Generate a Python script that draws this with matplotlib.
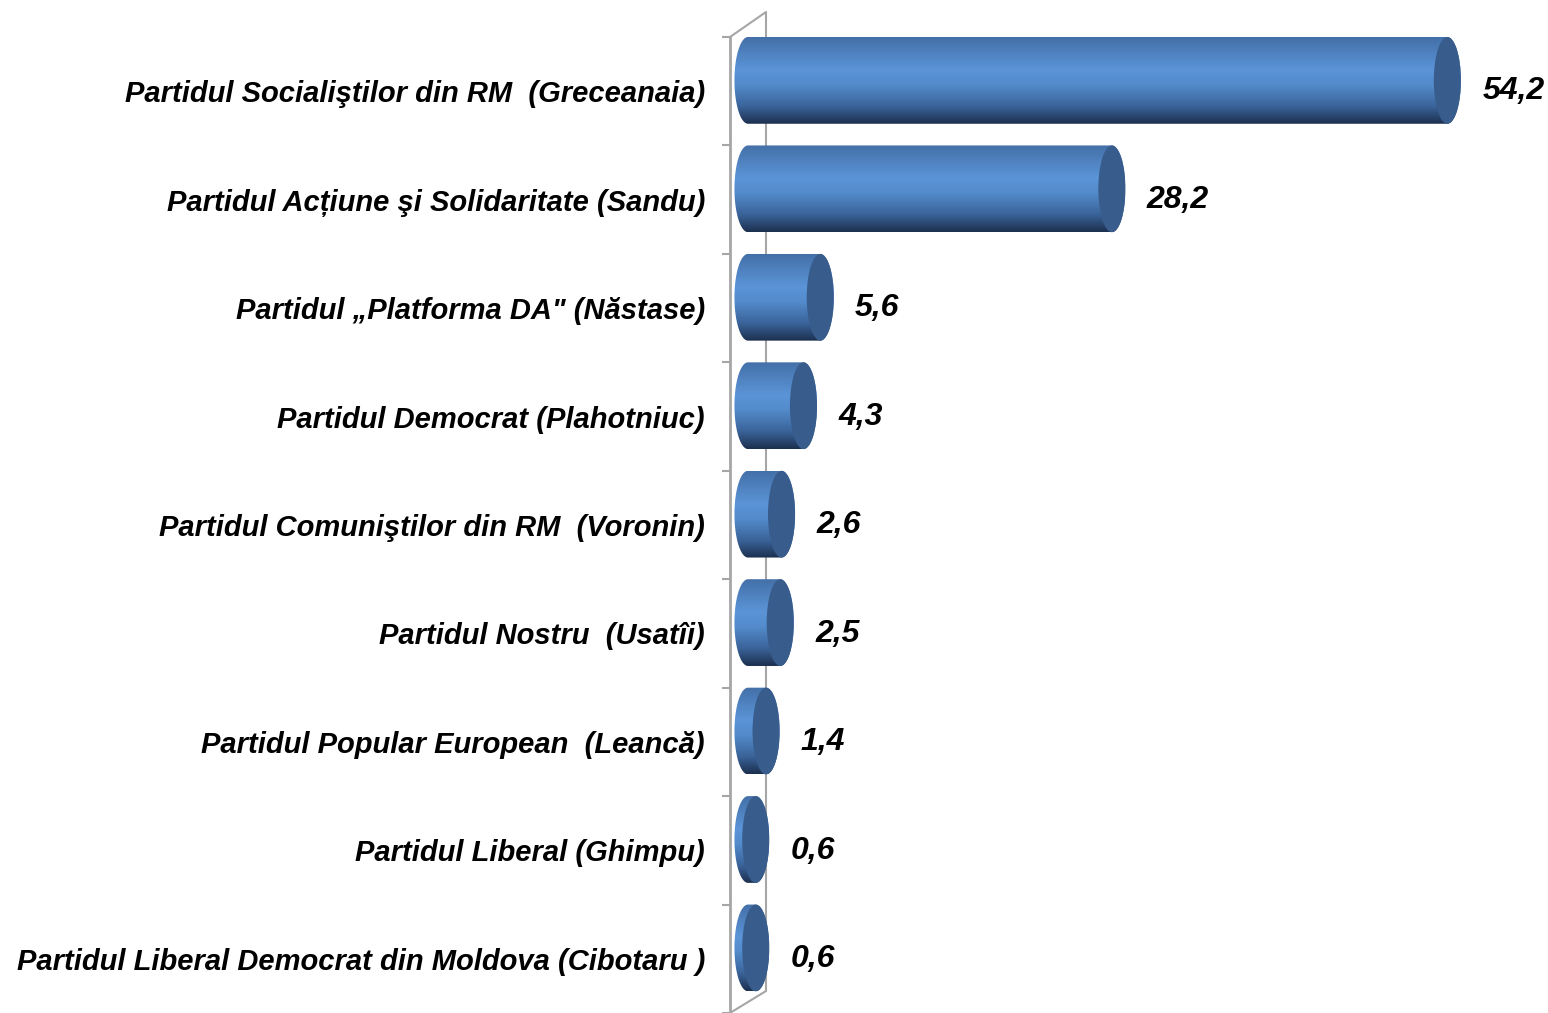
import numpy as np
import matplotlib
matplotlib.use("Agg")
import matplotlib.pyplot as plt
from matplotlib.path import Path
from matplotlib.patches import PathPatch, Ellipse
from matplotlib.colors import LinearSegmentedColormap

parties = [
    "Partidul Socialiştilor din RM  (Greceanaia)",
    "Partidul Acțiune şi Solidaritate (Sandu)",
    "Partidul „Platforma DA\" (Năstase)",
    "Partidul Democrat (Plahotniuc)",
    "Partidul Comuniştilor din RM  (Voronin)",
    "Partidul Nostru  (Usatîi)",
    "Partidul Popular European  (Leancă)",
    "Partidul Liberal (Ghimpu)",
    "Partidul Liberal Democrat din Moldova (Cibotaru )",
]
values = [54.2, 28.2, 5.6, 4.3, 2.6, 2.5, 1.4, 0.6, 0.6]
value_labels = ["54,2", "28,2", "5,6", "4,3", "2,6", "2,5", "1,4", "0,6", "0,6"]

W, H = 1548, 1013
fig = plt.figure(figsize=(W / 100, H / 100), dpi=100)
ax = fig.add_axes([730 / W, 0, 1 - 730 / W, 1 - 37 / H])
xmin, xmax = -1.395, 62.0
ax.set_xlim(xmin, xmax)
ax.set_ylim(8.5, -0.5)

FONT = "Liberation Sans"
grey = "#a6a6a6"

# walls
px_per_x = (1548 - 730) / (xmax - xmin)
px_per_y = (H - 37) / 9.0
xb = xmin + 36 / px_per_x
ytop_back = -0.5 - 25 / px_per_y
ybot_back = -0.5 + (991 - 37) / px_per_y
ax.plot([xmin, xb, xb, xmin], [-0.5, ytop_back, ybot_back, 8.5], color=grey,
        lw=1.5, clip_on=False, zorder=1)

cmap = LinearSegmentedColormap.from_list("cyl", [
    (0.0, "#4470a8"), (0.38, "#5b95d8"), (0.55, "#538bcb"),
    (0.8, "#3a6399"), (1.0, "#1c304f")])
grad = np.linspace(0, 1, 200).reshape(-1, 1)

rx = 1.05
hh = 0.40
for i, v in enumerate(values):
    c = i - 0.10
    t1 = np.linspace(np.pi / 2, 3 * np.pi / 2, 60)
    t2 = np.linspace(-np.pi / 2, np.pi / 2, 60)
    xs = np.concatenate([rx * np.cos(t1), v + rx * np.cos(t2)])
    ys = np.concatenate([c - hh * np.sin(t1), c - hh * np.sin(t2)])
    verts = np.column_stack([xs, ys])
    verts = np.vstack([verts, verts[:1]])
    codes = [Path.MOVETO] + [Path.LINETO] * (len(verts) - 2) + [Path.CLOSEPOLY]
    patch = PathPatch(Path(verts, codes), fc="none", ec="none", zorder=3)
    ax.add_patch(patch)
    im = ax.imshow(grad, cmap=cmap, aspect="auto", origin="upper",
                   extent=(-rx, v + rx, c + hh, c - hh), zorder=3,
                   interpolation="bilinear")
    im.set_clip_path(patch)
    cap = Ellipse((v, c), 2 * rx, 2 * hh, fc="#385d8d", ec="none", zorder=4)
    ax.add_patch(cap)
    ax.text(v + 2.7, i - 0.03, value_labels[i], ha="left", va="center_baseline",
            fontsize=23, fontweight="bold", style="italic", family=FONT,
            color="black", zorder=5)

ax.set_xlim(xmin, xmax)
ax.set_ylim(8.5, -0.5)

ax.set_yticks(range(len(parties)))
ax.set_yticklabels(parties, fontsize=21, fontweight="bold", style="italic",
                   family=FONT)
ax.tick_params(axis="y", which="major", length=0, pad=18)
ax.set_yticks(np.arange(-0.5, 8.6, 1), minor=True)
ax.tick_params(axis="y", which="minor", length=6, width=1.5, color=grey)
ax.set_xticks([])
for s in ["top", "right", "bottom"]:
    ax.spines[s].set_visible(False)
ax.spines["left"].set_color(grey)
ax.spines["left"].set_linewidth(2)
ax.patch.set_alpha(0)

fig.savefig("out.png", dpi=100)
